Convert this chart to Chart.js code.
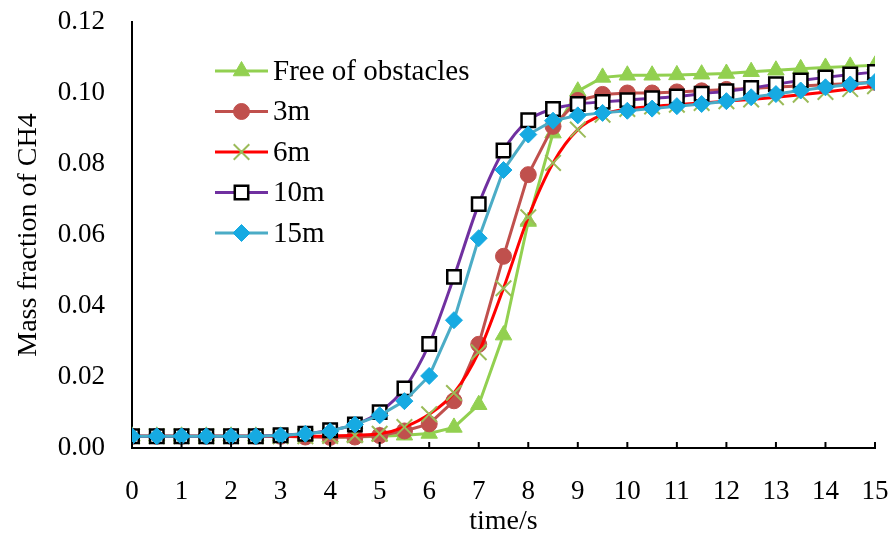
<!DOCTYPE html>
<html>
<head>
<meta charset="utf-8">
<script src="https://cdn.jsdelivr.net/npm/chart.js@4.4.1/dist/chart.umd.min.js"></script>
<style>
html, body { margin: 0; padding: 0; background: #fff; }
#wrap { width: 888px; height: 536px; }
</style>
</head>
<body>
<div id="wrap"><canvas id="chart" width="888" height="536"></canvas></div>
<script>
// time (s)
const times = [0, 0.5, 1, 1.5, 2, 2.5, 3, 3.5, 4, 4.5, 5, 5.5, 6, 6.5, 7, 7.5,
               8, 8.5, 9, 9.5, 10, 10.5, 11, 11.5, 12, 12.5, 13, 13.5, 14, 14.5, 15];

// mass fraction of CH4 per case
const freeObst = [0.0033, 0.0033, 0.0033, 0.0033, 0.0033, 0.0033, 0.0033, 0.0033, 0.0031, 0.0031,
                  0.0033, 0.0036, 0.0041, 0.0058, 0.0122, 0.0318, 0.0638, 0.0887, 0.1005, 0.1044,
                  0.1050, 0.1050, 0.1051, 0.1053, 0.1055, 0.1060, 0.1064, 0.1068, 0.1072, 0.1075, 0.1078];
const m3 = [0.0033, 0.0033, 0.0033, 0.0033, 0.0033, 0.0033, 0.0033, 0.0031, 0.0030, 0.0031,
            0.0035, 0.0048, 0.0068, 0.0133, 0.0292, 0.0540, 0.0770, 0.0906, 0.0979, 0.0996,
            0.1000, 0.1000, 0.1003, 0.1006, 0.1010, 0.1013, 0.1017, 0.1020, 0.1023, 0.1027, 0.1030];
const m6 = [0.0033, 0.0033, 0.0033, 0.0033, 0.0033, 0.0033, 0.0033, 0.0033, 0.0034, 0.0036,
            0.0040, 0.0059, 0.0095, 0.0155, 0.0270, 0.0450, 0.0650, 0.0803, 0.0897, 0.0939,
            0.0955, 0.0962, 0.0967, 0.0972, 0.0977, 0.0982, 0.0988, 0.0995, 0.1003, 0.1011, 0.1019];
const m10 = [0.0033, 0.0033, 0.0033, 0.0033, 0.0033, 0.0033, 0.0036, 0.0040, 0.0050, 0.0066,
             0.0101, 0.0168, 0.0293, 0.0482, 0.0687, 0.0838, 0.0923, 0.0955, 0.0969, 0.0975,
             0.0980, 0.0985, 0.0990, 0.0998, 0.1005, 0.1014, 0.1025, 0.1035, 0.1044, 0.1052, 0.1059];
const m15 = [0.0033, 0.0033, 0.0033, 0.0033, 0.0033, 0.0033, 0.0035, 0.0040, 0.0047, 0.0066,
             0.0092, 0.0132, 0.0203, 0.0360, 0.0591, 0.0783, 0.0883, 0.0922, 0.0937, 0.0944,
             0.0950, 0.0956, 0.0963, 0.0969, 0.0977, 0.0988, 0.0997, 0.1007, 0.1016, 0.1024, 0.1031];

const seriesNames = ["Free of obstacles", "3m", "6m", "10m", "15m"];

const FONT = "'Liberation Serif', 'Times New Roman', serif";

function pts(vals) {
    return times.map((t, i) => ({x: t, y: vals[i]}));
}

// tick marks on the x axis, pointing into the plot
const innerTicks = {
    id: 'innerTicks',
    afterDraw(chart) {
        const ctx = chart.ctx;
        const xs = chart.scales.x;
        const bottom = chart.chartArea.bottom;
        ctx.save();
        ctx.strokeStyle = '#000';
        ctx.lineWidth = 2;
        xs.ticks.forEach(t => {
            const px = xs.getPixelForValue(t.value);
            ctx.beginPath();
            ctx.moveTo(px, bottom);
            ctx.lineTo(px, bottom - 6);
            ctx.stroke();
        });
        ctx.restore();
    }
};

// legend drawn inside the plot: line sample + marker + text
const insideLegend = {
    id: 'insideLegend',
    afterDraw(chart, args, opts) {
        const ctx = chart.ctx;
        ctx.save();
        chart.data.datasets.forEach((ds, i) => {
            const y = opts.top + opts.rowGap * i;
            ctx.strokeStyle = ds.borderColor;
            ctx.lineWidth = ds.borderWidth;
            ctx.beginPath();
            ctx.moveTo(opts.left, y);
            ctx.lineTo(opts.left + opts.lineLen, y);
            ctx.stroke();
            ctx.fillStyle = ds.pointBackgroundColor;
            ctx.strokeStyle = ds.pointBorderColor;
            ctx.lineWidth = ds.pointBorderWidth;
            Chart.helpers.drawPoint(ctx, {
                pointStyle: ds.pointStyle,
                radius: ds.pointRadius,
                borderWidth: ds.pointBorderWidth,
                rotation: 0
            }, opts.left + opts.lineLen / 2, y);
            ctx.fillStyle = '#000';
            ctx.font = opts.fontSize + 'px ' + FONT;
            ctx.textBaseline = 'middle';
            ctx.textAlign = 'left';
            ctx.fillText(ds.label, opts.left + opts.lineLen + 5, y + 1);
        });
        ctx.restore();
    }
};

const ctx = document.getElementById('chart');
new Chart(ctx, {
    type: 'line',
    data: {
        datasets: [
            {
                label: seriesNames[0], data: pts(freeObst), order: 5,
                borderColor: '#92D050', borderWidth: 3, tension: 0,
                pointStyle: 'triangle', pointRadius: 9.5,
                pointBackgroundColor: '#92D050', pointBorderColor: '#92D050', pointBorderWidth: 1
            },
            {
                label: seriesNames[1], data: pts(m3), order: 4,
                borderColor: '#C0504D', borderWidth: 3, tension: 0,
                pointStyle: 'circle', pointRadius: 8,
                pointBackgroundColor: '#C0504D', pointBorderColor: '#C0504D', pointBorderWidth: 1
            },
            {
                label: seriesNames[2], data: pts(m6), order: 3,
                borderColor: '#FF0000', borderWidth: 3, cubicInterpolationMode: 'monotone',
                pointStyle: 'crossRot', pointRadius: 11,
                pointBackgroundColor: '#9BBB59', pointBorderColor: '#9BBB59', pointBorderWidth: 2
            },
            {
                label: seriesNames[3], data: pts(m10), order: 2,
                borderColor: '#7030A0', borderWidth: 3, cubicInterpolationMode: 'monotone',
                pointStyle: 'rect', pointRadius: 9.5,
                pointBackgroundColor: '#FFFFFF', pointBorderColor: '#000000', pointBorderWidth: 2.5
            },
            {
                label: seriesNames[4], data: pts(m15), order: 1,
                borderColor: '#4BACC6', borderWidth: 3, tension: 0,
                pointStyle: 'rectRot', pointRadius: 8.5,
                pointBackgroundColor: '#16AAE2', pointBorderColor: '#16AAE2', pointBorderWidth: 1
            }
        ]
    },
    options: {
        responsive: false,
        animation: false,
        devicePixelRatio: 1,
        layout: { padding: { top: 22, right: 10, left: 0, bottom: 0 } },
        plugins: {
            legend: { display: false },
            tooltip: { enabled: false },
            insideLegend: { left: 215, top: 71, rowGap: 40.5, lineLen: 53, fontSize: 29 }
        },
        scales: {
            x: {
                type: 'linear', min: 0, max: 15,
                grid: { display: false, drawTicks: false },
                border: { display: true, color: '#000', width: 2 },
                ticks: { stepSize: 1, color: '#000', padding: 28, font: { family: FONT, size: 27 } },
                title: { display: true, text: 'time/s', color: '#000',
                         font: { family: FONT, size: 28, lineHeight: 1 }, padding: { top: 0, bottom: 0 } },
                afterFit(scale) { scale.height = 88; scale.paddingRight = 0; scale.paddingLeft = 0; }
            },
            y: {
                min: 0, max: 0.12,
                grid: { display: false, drawTicks: false },
                border: { display: true, color: '#000', width: 2 },
                ticks: { stepSize: 0.02, color: '#000', padding: 27, font: { family: FONT, size: 27 },
                         callback: v => v.toFixed(2) },
                title: { display: true, text: 'Mass fraction of CH4', color: '#000',
                         font: { family: FONT, size: 28, lineHeight: 1 }, padding: { top: 15, bottom: 0 } },
                afterFit(scale) { scale.width = 132; scale.paddingTop = 0; scale.paddingBottom = 0; }
            }
        }
    },
    plugins: [innerTicks, insideLegend]
});
</script>
</body>
</html>
